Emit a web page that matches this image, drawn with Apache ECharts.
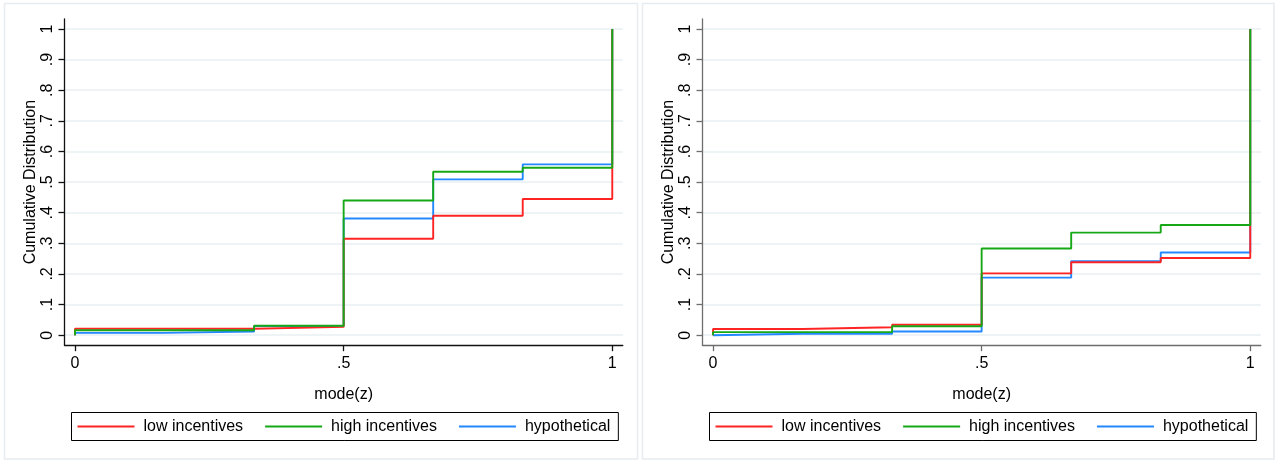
<!DOCTYPE html>
<html><head><meta charset="utf-8">
<script src="https://cdn.jsdelivr.net/npm/echarts@6/dist/echarts.min.js"></script>
<style>html,body{margin:0;padding:0;background:#fff}#c{width:1279px;height:460px}</style>
</head><body><div id="c"></div>
<script>
// Support points of mode(z)
const levels = [0, 1/6, 1/3, 1/2, 2/3, 5/6, 1];
const seriesNames = ['low incentives', 'high incentives', 'hypothetical'];

// Left panel: cumulative distribution at each level
const leftLow  = [0.021, 0.021, 0.027, 0.315, 0.390, 0.445, 1];
const leftHigh = [0.016, 0.016, 0.031, 0.440, 0.534, 0.547, 1];
const leftHyp  = [0.0075, 0.012, 0.030, 0.381, 0.509, 0.558, 1];

// Right panel
const rightLow  = [0.020, 0.026, 0.034, 0.202, 0.238, 0.252, 1];
const rightHigh = [0.010, 0.010, 0.029, 0.283, 0.335, 0.360, 1];
const rightHyp  = [0.0045, 0.0045, 0.012, 0.188, 0.242, 0.270, 1];

// Tick values and labels
const yTicks = [0, 0.1, 0.2, 0.3, 0.4, 0.5, 0.6, 0.7, 0.8, 0.9, 1];
const yTickLabels = ['0', '.1', '.2', '.3', '.4', '.5', '.6', '.7', '.8', '.9', '1'];
const xTicks = [0, 0.5, 1];
const xTickLabels = ['0', '.5', '1'];

const colors = { 'low incentives': '#ff2424', 'high incentives': '#16a816', 'hypothetical': '#2288ff' };
const FONT = 'Liberation Sans';
const FS = 16;

function stepData(vals) {
  return [[0, 0]].concat(levels.map((x, i) => [x, vals[i]]));
}
function fmt(arrV, arrL) {
  return v => { const i = arrV.findIndex(t => Math.abs(t - v) < 1e-9); return i >= 0 ? arrL[i] : ''; };
}

function xAxis(idx, axisColor) {
  return {
    type: 'value', gridIndex: idx, min: -0.0196, max: 1.0196,
    name: 'mode(z)', nameLocation: 'middle', nameGap: 41,
    nameTextStyle: { fontFamily: FONT, fontSize: FS, color: '#000' },
    axisLine: { show: true, onZero: false, lineStyle: { color: axisColor, width: 1.3 } },
    axisTick: { show: true, length: 6, customValues: xTicks, lineStyle: { color: axisColor, width: 1.3 } },
    axisLabel: { customValues: xTicks, formatter: fmt(xTicks, xTickLabels), margin: 10,
      fontFamily: FONT, fontSize: FS, color: '#000' },
    splitLine: { show: false }
  };
}
function yAxis(idx, axisColor) {
  return {
    type: 'value', gridIndex: idx, min: -0.0327, max: 1.0327,
    name: 'Cumulative Distribution', nameLocation: 'middle', nameGap: 21,
    nameTextStyle: { fontFamily: FONT, fontSize: FS, color: '#000' },
    axisLine: { show: true, onZero: false, lineStyle: { color: axisColor, width: 1.3 } },
    axisTick: { show: true, length: 6, customValues: yTicks, lineStyle: { color: axisColor, width: 1.3 } },
    axisLabel: { customValues: yTicks, formatter: fmt(yTicks, yTickLabels), rotate: 90, margin: 9,
      fontFamily: FONT, fontSize: FS, color: '#000' },
    splitLine: { show: true, lineStyle: { color: '#e9eff2', width: 1.5 } }
  };
}
function lineSeries(name, vals, idx, z) {
  return {
    name, type: 'line', xAxisIndex: idx, yAxisIndex: idx, step: 'end', symbol: 'none',
    data: stepData(vals), z,
    lineStyle: { color: colors[name], width: 1.9 }, itemStyle: { color: colors[name] },
    animation: false
  };
}
function legend(left) {
  return {
    left, top: 412.5, orient: 'horizontal', data: seriesNames, icon: 'rect',
    itemWidth: 57, itemHeight: 2, itemGap: 22,
    padding: [6, 8, 6, 6], borderColor: '#000', borderWidth: 1,
    textStyle: { fontFamily: FONT, fontSize: FS, color: '#000', padding: [0, 0, 0, 4] }
  };
}

const option = {
  backgroundColor: '#fff',
  animation: false,
  graphic: [
    { type: 'rect', shape: { x: 4.5, y: 3.5, width: 633, height: 455.5 }, style: { fill: 'none', stroke: '#e6ecef', lineWidth: 1.5 }, z: -10 },
    { type: 'rect', shape: { x: 642.5, y: 3.5, width: 631.5, height: 455.5 }, style: { fill: 'none', stroke: '#e6ecef', lineWidth: 1.5 }, z: -10 }
  ],
  grid: [
    { left: 64.5, top: 19, width: 558.3, height: 326.2 },
    { left: 702.5, top: 19, width: 558.3, height: 326.2 }
  ],
  xAxis: [xAxis(0, '#111'), xAxis(1, '#6e6e6e')],
  yAxis: [yAxis(0, '#111'), yAxis(1, '#6e6e6e')],
  legend: [legend(71.5), legend(709.5)],
  series: [
    lineSeries('hypothetical', leftHyp, 0, 2),
    lineSeries('low incentives', leftLow, 0, 3),
    lineSeries('high incentives', leftHigh, 0, 4),
    lineSeries('hypothetical', rightHyp, 1, 2),
    lineSeries('low incentives', rightLow, 1, 3),
    lineSeries('high incentives', rightHigh, 1, 4)
  ]
};
const chart = echarts.init(document.getElementById('c'), null, { renderer: 'canvas' });
chart.setOption(option);
</script></body></html>
